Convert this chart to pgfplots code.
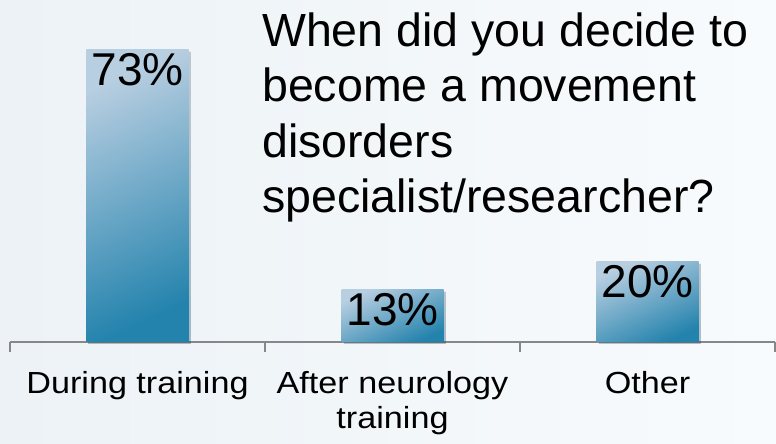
\documentclass[border=0pt]{standalone}
\usepackage{pgfplots}
\pgfplotsset{compat=1.18}
\usepackage{fontspec}
\setmainfont{Liberation Sans}
\newfontfamily\labfont[FakeStretch=1.12]{Liberation Sans}
\usetikzlibrary{shadows}
\definecolor{barlight}{RGB}{184,206,225}
\definecolor{bardark}{RGB}{36,131,173}
\definecolor{axgray}{RGB}{135,135,135}
\definecolor{bgL}{RGB}{236,242,246}
\definecolor{bgR}{RGB}{248,251,253}
\pgfplotsset{
  mybar/.style={draw=none, bar shift=0pt, top color=barlight, bottom color=bardark, shading angle=25,
    drop shadow={opacity=0.18, shadow xshift=2pt, shadow yshift=-2pt, fill=black}}
}
\begin{document}
\begin{tikzpicture}[x=1pt,y=1pt]
\shade[left color=bgL,right color=bgR] (0,0) rectangle (776,444);
\useasboundingbox (0,0) rectangle (776,444);
\begin{axis}[
  at={(10pt,102pt)}, anchor=south west,
  scale only axis, width=765pt, height=320pt,
  xmin=-0.5, xmax=2.5, ymin=0, ymax=80,
  axis x line=bottom, axis y line=none,
  axis line style={axgray, line width=2.5pt, -},
  every outer x axis line/.append style={-},
  every inner x axis line/.append style={-},
  xtick={0,1,2},
  xticklabels={During training, {After neurology\\training}, Other},
  major tick length=0pt,
  minor xtick={-0.5,0.5,1.5,2.5},
  minor tick length=10pt,
  tick align=outside,
  minor tick style={axgray, line width=2pt},
  xticklabel style={font=\labfont\fontsize{30.5}{35}\selectfont, align=center, anchor=north, inner sep=0pt, yshift=-29pt},
  ybar, bar width=102pt,
  /pgf/number format/assume math mode=true,
  nodes near coords={\pgfmathprintnumber{\pgfplotspointmeta}\%},
  nodes near coords style={anchor=north, inner sep=0pt, yshift=-3pt, font=\fontsize{46}{50}\selectfont, text=black},
  clip=false
]
\addplot[mybar] coordinates {(0,73)};
\addplot[mybar] coordinates {(1,13)};
\addplot[mybar] coordinates {(2,20)};
\end{axis}
\node[anchor=base west, align=left, inner sep=0pt, font=\fontsize{46.5}{55.5}\selectfont] at (262,231)
  {When did you decide to\\become a movement\\disorders\\specialist/researcher?};
\end{tikzpicture}
\end{document}
